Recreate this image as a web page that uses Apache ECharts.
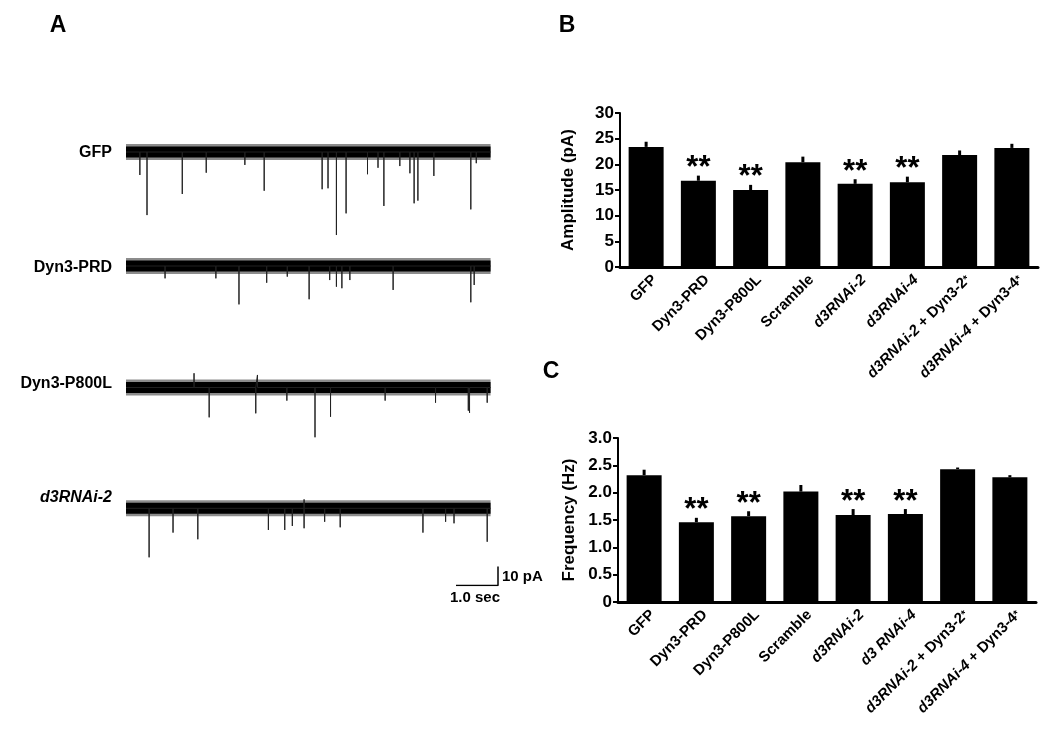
<!DOCTYPE html>
<html>
<head>
<meta charset="utf-8">
<style>
  html, body { margin: 0; padding: 0; background: #fff; }
  #main { width: 1050px; height: 753px; }
</style>
<script src="https://cdn.jsdelivr.net/npm/echarts@6/dist/echarts.min.js"></script>
</head>
<body>
<div id="main"></div>
<script>
const FONT = '"Liberation Sans", Arial, Helvetica, sans-serif'

// Panel A: example traces, events as [time (s), amplitude (pA)]
const traceNames = ['GFP', 'Dyn3-PRD', 'Dyn3-P800L', 'd3RNAi-2']
const traceEnd = 8.68
const gfpEvents = [[0.33, -12.1], [0.50, -33.2], [1.34, -22.1], [1.91, -10.9], [2.83, -6.8], [3.29, -20.4],
  [4.67, -19.6], [4.81, -19.1], [5.01, -43.7], [5.24, -32.3], [5.75, -11.7], [6.00, -8.3], [6.14, -28.4],
  [6.52, -7.4], [6.76, -11.2], [6.86, -27.0], [6.95, -25.6], [7.33, -12.6], [8.21, -30.2], [8.34, -5.9]]
const prdEvents = [[0.93, -6.5], [2.14, -6.5], [2.69, -20.2], [3.35, -8.8], [3.84, -5.6], [4.36, -17.5],
  [4.85, -7.4], [5.01, -10.9], [5.14, -11.7], [5.33, -7.4], [6.36, -12.6], [8.21, -19.1], [8.29, -10.0]]
const p800Events = [[1.62, 7.5], [1.98, -15.7], [3.09, -13.6], [3.13, 6.6], [3.83, -6.9], [4.50, -26.2],
  [4.87, -15.4], [6.17, -6.9], [7.37, -8.0], [8.15, -12.2], [8.18, -13.3], [8.60, -8.0]]
const d3Events = [[0.55, -25.8], [1.12, -12.8], [1.71, -16.3], [3.39, -11.4], [3.78, -11.4], [3.96, -9.3],
  [4.24, -10.5], [4.24, 4.7], [4.73, -7.1], [5.10, -10.0], [7.07, -12.8], [7.61, -7.1], [7.81, -7.9], [8.60, -17.6]]
const allEvents = [gfpEvents, prdEvents, p800Events, d3Events]

// Panel B / C
const ampCats = ['GFP', 'Dyn3-PRD', 'Dyn3-P800L', 'Scramble', 'd3RNAi-2', 'd3RNAi-4', 'd3RNAi-2 + Dyn3-2*', 'd3RNAi-4 + Dyn3-4*']
const freqCats = ['GFP', 'Dyn3-PRD', 'Dyn3-P800L', 'Scramble', 'd3RNAi-2', 'd3 RNAi-4', 'd3RNAi-2 + Dyn3-2*', 'd3RNAi-4 + Dyn3-4*']
const ampMean = [23.4, 16.8, 15.0, 20.4, 16.2, 16.5, 21.8, 23.2]
const ampSem = [1.0, 1.0, 1.0, 1.1, 0.9, 1.1, 0.9, 0.8]
const freqMean = [2.32, 1.46, 1.57, 2.02, 1.59, 1.61, 2.43, 2.28]
const freqSem = [0.10, 0.08, 0.09, 0.12, 0.11, 0.09, 0.03, 0.04]
const sigMarks = ['', '**', '**', '', '**', '**', '', '']
const ampTicks = ['0', '5', '10', '15', '20', '25', '30']
const freqTicks = ['0', '0.5', '1.0', '1.5', '2.0', '2.5', '3.0']

const chart = echarts.init(document.getElementById('main'))

// trace baseline with each event drawn as a vertical excursion
function traceLine(events) {
  const pts = [[0, 0]]
  events.forEach(e => {
    pts.push([e[0], 0], [e[0], e[1]], [e[0], 0])
  })
  pts.push([traceEnd, 0])
  return pts
}

const traceTops = [133, 247, 368.5, 489.3]
const grids = []
const xAxes = []
const yAxes = []
const series = []

traceTops.forEach((top, i) => {
  grids.push({ left: 126, top: top, width: 365.4, height: 114 })
  xAxes.push({ gridIndex: i, type: 'value', min: 0, max: 8.7, show: false })
  yAxes.push({ gridIndex: i, type: 'value', min: -50, max: 10, show: false })
  // noise band: soft edge + dark core
  series.push({
    type: 'line', xAxisIndex: i, yAxisIndex: i, symbol: 'none', silent: true,
    data: [[0, 0], [traceEnd, 0]],
    lineStyle: { color: 'rgba(0,0,0,0.45)', width: 16 }, z: 1
  })
  series.push({
    type: 'line', xAxisIndex: i, yAxisIndex: i, symbol: 'none', silent: true,
    data: [[0, 0], [traceEnd, 0]],
    lineStyle: { color: '#000', width: 11 }, z: 2
  })
  series.push({
    type: 'line', xAxisIndex: i, yAxisIndex: i, symbol: 'none', silent: true,
    data: traceLine(allEvents[i]),
    lineStyle: { color: '#222', width: 1 }, z: 3
  })
})

// scale bar: 1.0 sec x 10 pA
grids.push({ left: 456, top: 566.5, width: 42, height: 19 })
xAxes.push({ gridIndex: 4, type: 'value', min: 0, max: 1, show: false })
yAxes.push({ gridIndex: 4, type: 'value', min: 0, max: 10, show: false })
series.push({
  type: 'line', xAxisIndex: 4, yAxisIndex: 4, symbol: 'none',
  data: [[0, 0], [1, 0], [1, 10]],
  lineStyle: { color: '#000', width: 1.5 }
})

function catLabel(v) {
  return v.replace(/(d3 ?RNAi-\d)/, '{i|$1}').replace(/\*$/, '{s|*}')
}

function barPanel(gi, cats, ticks, max, interval, name, nameGap, means, sems) {
  xAxes.push({
    gridIndex: gi, type: 'category', data: cats,
    axisLine: { lineStyle: { color: '#000', width: 3 } },
    axisTick: { show: false },
    axisLabel: {
      interval: 0, rotate: 45, margin: 2, color: '#000',
      verticalAlign: 'top', lineHeight: 24,
      fontFamily: FONT, fontWeight: 'bold', fontSize: 15,
      formatter: catLabel,
      rich: {
        i: { fontFamily: FONT, fontWeight: 'bold', fontStyle: 'italic', fontSize: 15, lineHeight: 24, color: '#000' },
        s: { fontFamily: FONT, fontWeight: 'bold', fontSize: 11, lineHeight: 24, verticalAlign: 'middle', color: '#000' }
      }
    }
  })
  yAxes.push({
    gridIndex: gi, type: 'value', min: 0, max: max, interval: interval,
    name: name, nameLocation: 'middle', nameGap: nameGap,
    nameTextStyle: { fontFamily: FONT, fontWeight: 'bold', fontSize: 17, color: '#000' },
    splitLine: { show: false },
    axisLine: { show: true, lineStyle: { color: '#000', width: 2 } },
    axisTick: { show: true, length: 5, lineStyle: { color: '#000', width: 2 } },
    axisLabel: {
      color: '#000', fontFamily: FONT, fontWeight: 'bold', fontSize: 17, margin: 6,
      formatter: (v, idx) => ticks[idx]
    }
  })
  const ax = xAxes.length - 1
  series.push({
    type: 'bar', xAxisIndex: ax, yAxisIndex: ax, barWidth: 35,
    itemStyle: { color: '#000' }, data: means, z: 2
  })
  series.push({
    type: 'custom', xAxisIndex: ax, yAxisIndex: ax, z: 3,
    data: means.map((m, i) => [i, m, sems[i]]),
    renderItem(params, api) {
      const base = api.coord([api.value(0), api.value(1)])
      const top = api.coord([api.value(0), api.value(1) + api.value(2)])
      const kids = [{
        type: 'line',
        shape: { x1: base[0], y1: base[1], x2: top[0], y2: top[1] },
        style: { stroke: '#000', lineWidth: 3 }
      }]
      const mark = sigMarks[params.dataIndex]
      if (mark) {
        kids.push({
          type: 'text',
          style: {
            text: mark, x: top[0], y: top[1] - 7,
            textAlign: 'center', textVerticalAlign: 'middle',
            font: 'bold 31px ' + FONT, fill: '#000'
          }
        })
      }
      return { type: 'group', children: kids }
    }
  })
}

grids.push({ left: 620, top: 113, width: 418, height: 154 })
barPanel(5, ampCats, ampTicks, 30, 5, 'Amplitude (pA)', 43, ampMean, ampSem)
grids.push({ left: 618, top: 438, width: 418, height: 164 })
barPanel(6, freqCats, freqTicks, 3, 0.5, 'Frequency (Hz)', 40, freqMean, freqSem)

function txt(text, x, y, size, align, italic) {
  return {
    type: 'text',
    style: {
      text: text, x: x, y: y, textAlign: align, textVerticalAlign: 'middle',
      font: (italic ? 'italic ' : '') + 'bold ' + size + 'px ' + FONT, fill: '#000'
    }
  }
}

const traceLabelY = [153, 268, 384, 498]
const graphics = [
  txt('A', 58, 26, 23, 'center'),
  txt('B', 567, 26, 23, 'center'),
  txt('C', 551, 372, 23, 'center'),
  txt('10 pA', 502, 577, 15, 'left'),
  txt('1.0 sec', 475, 598, 15, 'center')
]
traceNames.forEach((n, i) => {
  graphics.push(txt(n, 112, traceLabelY[i], 16, 'right', n.indexOf('RNAi') >= 0))
})

chart.setOption({
  animation: false,
  backgroundColor: '#fff',
  grid: grids,
  xAxis: xAxes,
  yAxis: yAxes,
  series: series,
  graphic: graphics
})
</script>
</body>
</html>
